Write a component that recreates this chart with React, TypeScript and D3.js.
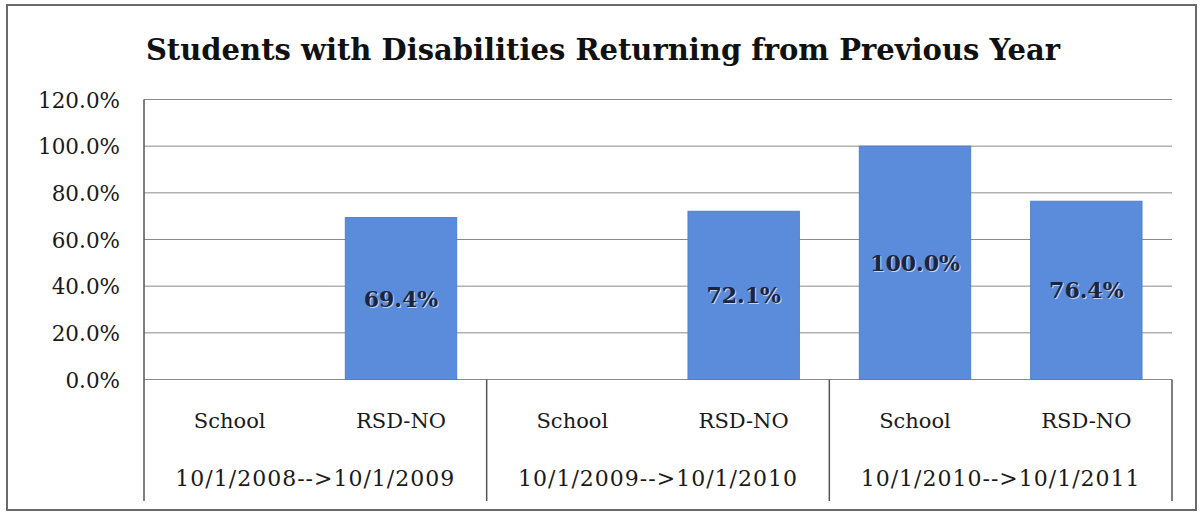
import React from "react";
import * as d3 from "d3";

const title = "Students with Disabilities Returning from Previous Year";
const periods = ["10/1/2008-->10/1/2009", "10/1/2009-->10/1/2010", "10/1/2010-->10/1/2011"];
const groups = ["School", "RSD-NO"];
const values: (number | null)[] = [null, 69.4, null, 72.1, 100.0, 76.4];
const yTicks = [0, 20, 40, 60, 80, 100, 120];

const W = 1202;
const H = 512;
const left = 144;
const right = 1172;
const top = 99.5;
const bottom = 379.5;
const tableBottom = 501;
const font = "'DejaVu Serif', serif";

export default function App() {
  const cats = periods.flatMap((p, i) => groups.map((g, j) => ({ key: i * groups.length + j, group: g, period: p })));
  const x = d3.scaleBand<number>().domain(cats.map((c) => c.key)).range([left, right]).paddingInner(0.35).paddingOuter(0.175);
  const y = d3.scaleLinear().domain([0, 120]).range([bottom, top]);
  const px = d3.scaleBand<string>().domain(periods).range([left, right]);
  const fmt = (v: number) => d3.format(".1f")(v) + "%";

  return (
    <svg width={W} height={H} style={{ position: "absolute", left: 0, top: 0, background: "#fff" }}>
      <rect x={7} y={5} width={1189} height={505} fill="#fff" stroke="#6a6a6a" strokeWidth={2} />
      <text x={603} y={60} textAnchor="middle" fontFamily={font} fontWeight="bold" fontSize={29} fill="#111">
        {title}
      </text>
      {yTicks.map((t) => (
        <g key={t}>
          <line x1={left} x2={right} y1={y(t)} y2={y(t)} stroke="#8a8a8a" strokeWidth={1} />
          <text x={120} y={y(t) + 8} textAnchor="end" fontFamily={font} fontSize={21.5} fill="#1a1a1a">
            {fmt(t)}
          </text>
        </g>
      ))}
      {cats.map((c, i) => {
        const v = values[i];
        if (v == null) return null;
        const bx = x(c.key)!;
        return (
          <g key={c.key}>
            <rect x={bx} y={y(v)} width={x.bandwidth()} height={bottom - y(v)} fill="#5b8bdb" stroke="#4f7fd0" strokeWidth={1} />
            <text x={bx + x.bandwidth() / 2 + 1} y={(y(v) + bottom) / 2 + 9} textAnchor="middle" fontFamily={font} fontWeight="bold" fontSize={22} fill="#c8d4ec">
              {fmt(v)}
            </text>
            <text x={bx + x.bandwidth() / 2} y={(y(v) + bottom) / 2 + 8} textAnchor="middle" fontFamily={font} fontWeight="bold" fontSize={22} fill="#1c2540">
              {fmt(v)}
            </text>
          </g>
        );
      })}
      <line x1={left} x2={left} y1={top} y2={tableBottom} stroke="#555" strokeWidth={1.5} />
      {periods.map((p) => (
        <line key={p} x1={px(p)! + px.bandwidth()} x2={px(p)! + px.bandwidth()} y1={bottom} y2={tableBottom} stroke="#555" strokeWidth={1.5} />
      ))}
      {cats.map((c) => (
        <text key={c.key} x={x(c.key)! + x.bandwidth() / 2} y={428} textAnchor="middle" fontFamily={font} fontSize={21} fill="#1a1a1a">
          {c.group}
        </text>
      ))}
      {periods.map((p) => (
        <text key={p} x={px(p)! + px.bandwidth() / 2} y={486} textAnchor="middle" fontFamily={font} fontSize={22} letterSpacing={1} fill="#1a1a1a">
          {p}
        </text>
      ))}
    </svg>
  );
}
